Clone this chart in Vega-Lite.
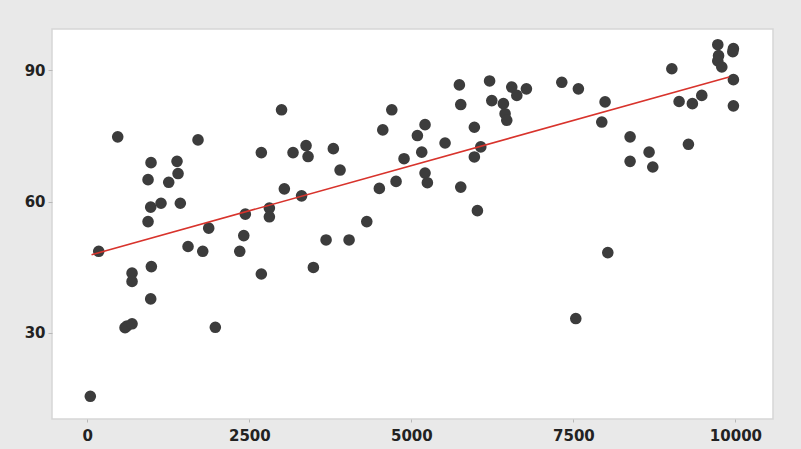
{
  "$schema": "https://vega.github.io/schema/vega-lite/v6.json",
  "width": 721,
  "height": 390,
  "autosize": {"type": "none"},
  "padding": {"left": 52, "top": 29, "right": 28, "bottom": 30},
  "background": "#e9e9e9",
  "config": {
    "view": {"fill": "#ffffff", "stroke": "#d6d6d6", "strokeWidth": 1.5},
    "axis": {
      "grid": false,
      "domain": false,
      "ticks": true,
      "tickColor": "#b8b8b8",
      "tickWidth": 1,
      "labelFont": "DejaVu Sans",
      "labelFontWeight": "bold",
      "labelFontSize": 15,
      "labelColor": "#222222",
      "title": null
    }
  },
  "datasets": {
    "points": [
      {"x": 46, "y": 15.4}, {"x": 176, "y": 48.6}, {"x": 469, "y": 74.8}, {"x": 582, "y": 31.1},
      {"x": 613, "y": 31.5}, {"x": 690, "y": 32.0}, {"x": 690, "y": 43.6}, {"x": 690, "y": 41.7},
      {"x": 937, "y": 55.4}, {"x": 937, "y": 65.0}, {"x": 978, "y": 58.7}, {"x": 983, "y": 68.9},
      {"x": 988, "y": 45.1}, {"x": 978, "y": 37.7}, {"x": 1137, "y": 59.6}, {"x": 1256, "y": 64.4},
      {"x": 1384, "y": 69.2}, {"x": 1400, "y": 66.4}, {"x": 1435, "y": 59.6}, {"x": 1554, "y": 49.7},
      {"x": 1708, "y": 74.1}, {"x": 1781, "y": 48.6}, {"x": 1873, "y": 53.9}, {"x": 1975, "y": 31.2},
      {"x": 2352, "y": 48.6}, {"x": 2414, "y": 52.2}, {"x": 2438, "y": 57.1}, {"x": 2685, "y": 71.2},
      {"x": 2685, "y": 43.4}, {"x": 2809, "y": 58.5}, {"x": 2809, "y": 56.5}, {"x": 2997, "y": 81.0},
      {"x": 3040, "y": 62.9}, {"x": 3174, "y": 71.2}, {"x": 3306, "y": 61.3}, {"x": 3375, "y": 72.8},
      {"x": 3406, "y": 70.3}, {"x": 3488, "y": 44.9}, {"x": 3684, "y": 51.2}, {"x": 3796, "y": 72.1},
      {"x": 3900, "y": 67.2}, {"x": 4039, "y": 51.2}, {"x": 4312, "y": 55.4}, {"x": 4506, "y": 63.0},
      {"x": 4559, "y": 76.4}, {"x": 4698, "y": 81.0}, {"x": 4764, "y": 64.6}, {"x": 4887, "y": 69.8},
      {"x": 5093, "y": 75.1}, {"x": 5160, "y": 71.3}, {"x": 5211, "y": 77.6}, {"x": 5211, "y": 66.5},
      {"x": 5247, "y": 64.3}, {"x": 5520, "y": 73.4}, {"x": 5741, "y": 86.7}, {"x": 5762, "y": 82.2},
      {"x": 5762, "y": 63.3}, {"x": 5972, "y": 77.0}, {"x": 5972, "y": 70.2}, {"x": 6019, "y": 57.9},
      {"x": 6071, "y": 72.5}, {"x": 6207, "y": 87.6}, {"x": 6241, "y": 83.1}, {"x": 6420, "y": 82.4},
      {"x": 6446, "y": 80.1}, {"x": 6472, "y": 78.6}, {"x": 6549, "y": 86.2}, {"x": 6627, "y": 84.3},
      {"x": 6775, "y": 85.8}, {"x": 7321, "y": 87.3}, {"x": 7537, "y": 33.2}, {"x": 7577, "y": 85.8},
      {"x": 7938, "y": 78.2}, {"x": 7989, "y": 82.8}, {"x": 8031, "y": 48.3}, {"x": 8375, "y": 74.8},
      {"x": 8375, "y": 69.2}, {"x": 8668, "y": 71.3}, {"x": 8725, "y": 67.9}, {"x": 9019, "y": 90.4},
      {"x": 9131, "y": 82.9}, {"x": 9275, "y": 73.1}, {"x": 9336, "y": 82.4}, {"x": 9481, "y": 84.3},
      {"x": 9728, "y": 95.9}, {"x": 9740, "y": 93.4}, {"x": 9728, "y": 92.2}, {"x": 9790, "y": 90.8},
      {"x": 9969, "y": 95.0}, {"x": 9960, "y": 94.3}, {"x": 9969, "y": 87.9}, {"x": 9969, "y": 81.9}
    ],
    "fit": [
      {"x": 65, "y": 47.8},
      {"x": 9903, "y": 88.5}
    ]
  },
  "layer": [
    {
      "data": {"name": "points"},
      "mark": {"type": "circle", "size": 135, "color": "#3c3c3c", "opacity": 1},
      "encoding": {
        "x": {"field": "x", "type": "quantitative",
              "scale": {"domain": [-545, 10580], "nice": false, "zero": false},
              "axis": {"values": [0, 2500, 5000, 7500, 10000], "tickSize": 3, "labelPadding": 6, "format": "d"}},
        "y": {"field": "y", "type": "quantitative",
              "scale": {"domain": [10.2, 99.5], "nice": false, "zero": false},
              "axis": {"values": [30, 60, 90], "tickSize": 4, "labelPadding": 3, "format": "d"}}
      }
    },
    {
      "data": {"name": "fit"},
      "mark": {"type": "line", "color": "#d8332c", "strokeWidth": 1.6},
      "encoding": {
        "x": {"field": "x", "type": "quantitative"},
        "y": {"field": "y", "type": "quantitative"}
      }
    }
  ]
}
